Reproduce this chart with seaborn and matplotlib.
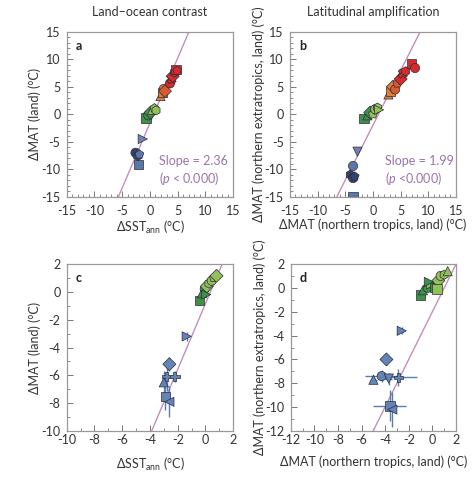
import numpy as np
import pandas as pd
import matplotlib
matplotlib.use("Agg")
import matplotlib.pyplot as plt
import seaborn as sns
from matplotlib.ticker import MultipleLocator

sns.set_theme(style="white")
plt.rcParams['font.family'] = ['Lato', 'DejaVu Sans']
plt.rcParams['mathtext.fontset'] = 'custom'
plt.rcParams['mathtext.rm'] = 'Lato'
plt.rcParams['mathtext.it'] = 'Lato:italic'
plt.rcParams['axes.unicode_minus'] = False

# ---------------- data ----------------
# panel a: land-ocean contrast (all simulations)
a_x = [-2.1, -2.6, -2.2, -1.9, -1.3, -0.7, -0.3, 0.1, 0.4, 0.8, 1.1, 1.9, 2.2, 2.5, 2.7, 3.6, 3.9, 4.1, 4.4, 4.7, 4.9]
a_y = [-9.2, -7.0, -7.6, -7.3, -4.5, -0.7, -0.2, 0.3, 0.8, 1.1, 0.7, 3.3, 4.0, 4.6, 4.2, 5.6, 6.4, 6.9, 7.6, 8.1, 7.9]
a_grp = ['G2', 'G1', 'G1', 'G2', 'G3', 'G4', 'G4', 'G4', 'G5', 'G5', 'G5',
         'G6', 'G6', 'G6', 'G7', 'G8', 'G8', 'G8', 'G8', 'G8', 'G8']
a_mod = ['M1', 'M2', 'M8', 'M7', 'M3', 'M1', 'M2', 'M6', 'M4', 'M7', 'M8',
         'M4', 'M1', 'M2', 'M6', 'M2', 'M10', 'M6', 'M8', 'M1', 'M7']
a_slope, a_icpt = 2.36, -1.6

# panel b: latitudinal amplification (all simulations)
b_x = [-3.6, -4.1, -3.6, -3.3, -3.6, -2.8, -1.6, -1.0, -0.5, 0.0, 0.4, 0.8, 1.1,
       2.8, 3.2, 3.6, 4.0, 4.4, 5.0, 5.4, 5.9, 7.0, 7.6]
b_y = [-14.9, -11.0, -11.6, -11.3, -9.4, -6.8, -0.8, -0.2, 0.3, 0.0, 0.9, 1.2, 0.8,
       3.6, 4.2, 5.0, 4.5, 5.6, 6.4, 7.4, 7.8, 9.2, 8.4]
b_grp = ['G2', 'G1', 'G1', 'G1', 'G2', 'G3', 'G4', 'G4', 'G4', 'G5', 'G5', 'G5', 'G5',
         'G6', 'G6', 'G6', 'G7', 'G7', 'G8', 'G8', 'G8', 'G8', 'G8']
b_mod = ['M1', 'M8', 'M2', 'M7', 'M2', 'M5', 'M1', 'M4', 'M6', 'M7', 'M2', 'M8', 'M3',
         'M4', 'M1', 'M6', 'M2', 'M7', 'M6', 'M10', 'M8', 'M1', 'M2']
b_slope, b_icpt = 1.99, -2.0

# panel c: land-ocean contrast (ensemble means with uncertainty)
c_x = [-0.45, -0.25, -0.05, 0.1, 0.25, 0.45, 0.6, 0.8, 0.05, -1.35, -2.6, -2.8, -2.2, -3.0, -2.9, -2.6]
c_y = [-0.6, -0.1, 0.2, 0.4, 0.6, 0.8, 1.0, 1.15, -0.2, -3.2, -5.2, -6.1, -6.1, -6.5, -7.5, -7.9]
c_xerr = [0.05, 0.05, 0.05, 0.05, 0.05, 0.05, 0.05, 0.05, 0.05, 0.15, 0.1, 0.2, 0.25, 0.1, 0.1, 0.1]
c_yerr = [0.1, 0.1, 0.1, 0.1, 0.1, 0.1, 0.1, 0.1, 0.1, 0.3, 0.5, 1.0, 0.4, 0.8, 1.0, 1.1]
c_grp = ['G4', 'G4', 'G4', 'G5', 'G5', 'G5', 'G5', 'G5', 'G4', 'B', 'B', 'B', 'B', 'B', 'B', 'B']
c_mod = ['M1', 'M4', 'M2', 'M6', 'M8', 'M2', 'M7', 'M6', 'M3', 'M3', 'M6', 'M9', 'M9', 'M4', 'M1', 'M11']
c_slope, c_icpt = 2.36, -0.85

# panel d: latitudinal amplification (ensemble means with uncertainty)
d_x = [-1.0, -0.8, -0.4, -0.1, 0.2, 0.5, 0.7, 1.0, 1.3, -0.3, 0.4, -2.6, -3.9, -4.3, -5.0, -3.7, -2.9, -3.6, -3.4]
d_y = [-0.6, -0.2, 0.0, 0.3, 0.0, 0.6, 1.0, 1.1, 1.4, 0.5, -0.1, -3.6, -6.0, -7.4, -7.7, -7.6, -7.5, -9.9, -10.2]
d_xerr = [0.1, 0.1, 0.1, 0.1, 0.1, 0.1, 0.1, 0.1, 0.1, 0.1, 0.3, 0.2, 0.5, 1.4, 0.3, 0.3, 1.6, 1.4, 0.3]
d_yerr = [0.1, 0.1, 0.1, 0.1, 0.1, 0.1, 0.1, 0.1, 0.1, 0.1, 0.1, 0.3, 0.5, 0.5, 0.3, 0.5, 0.7, 1.3, 1.5]
d_grp = ['G4', 'G4', 'G4', 'G5', 'G4', 'G5', 'G5', 'G5', 'G5', 'G4', 'G5',
         'B', 'B', 'B', 'B', 'B', 'B', 'B', 'B']
d_mod = ['M1', 'M4', 'M2', 'M3', 'M1', 'M6', 'M2', 'M8', 'M4', 'M3', 'M1',
         'M3', 'M6', 'M2', 'M4', 'M5', 'M9', 'M1', 'M11']
d_slope, d_icpt = 1.99, -2.0

titles = ['Land\u2013ocean contrast', 'Latitudinal amplification']
panel_letters = ['a', 'b', 'c', 'd']
slope_texts = ['Slope = 2.36\n($\\it{p}$ < 0.000)', 'Slope = 1.99\n($\\it{p}$ <0.000)']
xlabels = ['\u0394SST$_{\\mathrm{ann}}$ (\u00b0C)', '\u0394MAT (northern tropics, land) (\u00b0C)']
ylabels = ['\u0394MAT (land) (\u00b0C)', '\u0394MAT (northern extratropics, land) (\u00b0C)']

# ---------------- styles ----------------
palette = {'G1': '#33446a', 'G2': '#5a77a6', 'G3': '#6f82b0', 'G4': '#3e9046',
           'G5': '#94c05a', 'G6': '#e0803a', 'G7': '#d95a2c', 'G8': '#d42c2c',
           'B': '#6385b6'}
markers = {'M1': 's', 'M2': 'o', 'M3': '>', 'M4': '^', 'M5': 'v', 'M6': 'D',
           'M7': 'p', 'M8': 'h', 'M9': 'P', 'M10': 'X', 'M11': '<'}
text_col = '#333333'
line_col = '#c58fb7'
slope_col = '#9a73ab'
err_col = '#5b7bb0'
fs = 9

fig = plt.figure(figsize=(4.73, 4.80), dpi=100)
positions = [[0.141, 0.590, 0.352, 0.344],
             [0.613, 0.590, 0.351, 0.344],
             [0.141, 0.102, 0.352, 0.348],
             [0.615, 0.102, 0.349, 0.348]]
axes = [fig.add_axes(p) for p in positions]

panels = [
    (a_x, a_y, None, None, a_grp, a_mod, a_slope, a_icpt, (-15, 15), 5, 1),
    (b_x, b_y, None, None, b_grp, b_mod, b_slope, b_icpt, (-15, 15), 5, 1),
    (c_x, c_y, c_xerr, c_yerr, c_grp, c_mod, c_slope, c_icpt, (-10, 2), 2, 1),
    (d_x, d_y, d_xerr, d_yerr, d_grp, d_mod, d_slope, d_icpt, (-12, 2), 2, 1),
]

for i, (ax, pan) in enumerate(zip(axes, panels)):
    x, y, xe, ye, grp, mod, slope, icpt, lim, major, minor = pan
    df = pd.DataFrame({'x': x, 'y': y, 'grp': grp, 'mod': mod})
    ax.axline((0, icpt), slope=slope, color=line_col, lw=1.0, zorder=1)
    if xe is not None:
        ax.errorbar(x, y, xerr=xe, yerr=ye, fmt='none', ecolor=err_col,
                    elinewidth=1.0, capsize=0, zorder=2)
    sns.scatterplot(data=df, x='x', y='y', hue='grp', palette=palette,
                    style='mod', markers=markers, s=44, edgecolor='#2b2b3b',
                    linewidth=0.5, legend=False, ax=ax, zorder=3)
    ax.set_xlim(lim)
    ax.set_ylim(lim)
    ax.xaxis.set_major_locator(MultipleLocator(major))
    ax.yaxis.set_major_locator(MultipleLocator(major))
    ax.xaxis.set_minor_locator(MultipleLocator(minor))
    ax.yaxis.set_minor_locator(MultipleLocator(minor))
    top_row = i < 2
    ax.tick_params(which='both', direction='in', bottom=True, left=True,
                   top=False, right=False, colors='#777777',
                   labelcolor=text_col, labelsize=fs)
    ax.tick_params(axis='x', which='both', pad=6 if top_row else 2)
    ax.tick_params(axis='y', which='both', pad=4.5)
    ax.tick_params(which='major', length=4, width=0.7)
    ax.tick_params(which='minor', length=2, width=0.6)
    for sp in ax.spines.values():
        sp.set_color('#999999')
        sp.set_linewidth(0.9)
    col = i % 2
    ax.set_xlabel(xlabels[col], fontsize=fs, color=text_col,
                  labelpad=1 if top_row else 7)
    ax.set_ylabel(ylabels[col], fontsize=fs, color=text_col, labelpad=0)
    ax.text(0.055, 0.95, panel_letters[i], transform=ax.transAxes,
            fontsize=fs, fontweight='bold', color='#222222', va='top', ha='left')
    if top_row:
        ax.set_title(titles[col], fontsize=fs, color=text_col, pad=11)
        ax.text(0.97 if col == 0 else 0.985, 0.06, slope_texts[col],
                transform=ax.transAxes, fontsize=fs, color=slope_col,
                ha='right', va='bottom', multialignment='left', linespacing=1.2)

fig.savefig('out.png', dpi=100)
